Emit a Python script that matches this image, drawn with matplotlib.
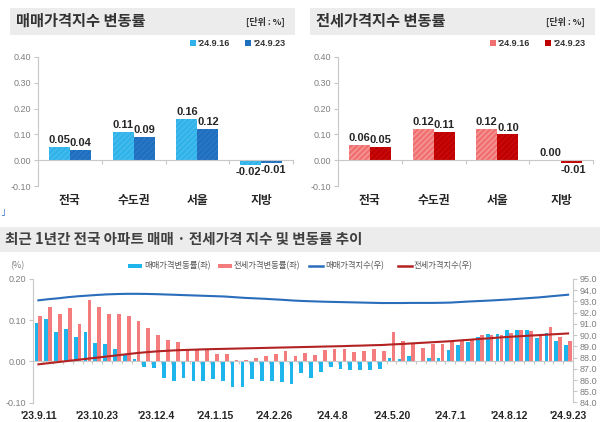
import matplotlib
matplotlib.use('Agg')
import matplotlib.pyplot as plt
from matplotlib.patches import Rectangle
from matplotlib.lines import Line2D
from matplotlib.transforms import blended_transform_factory
import numpy as np

plt.rcParams['font.family'] = ['Noto Sans CJK KR', 'DejaVu Sans']
plt.rcParams['hatch.linewidth'] = 1.0

# 상단: 지역별 변동률
regions = ['전국', '수도권', '서울', '지방']
sale_0916 = [0.05, 0.11, 0.16, -0.02]
sale_0923 = [0.04, 0.09, 0.12, -0.01]
jeonse_0916 = [0.06, 0.12, 0.12, 0.00]
jeonse_0923 = [0.05, 0.11, 0.10, -0.01]
date_labels = ["'24.9.16", "'24.9.23"]

# 하단: 최근 1년 주간 추이 ('23.9.11 ~ '24.9.23)
week_labels = ["'23.9.11", "'23.10.23", "'23.12.4", "'24.1.15", "'24.2.26",
               "'24.4.8", "'24.5.20", "'24.7.1", "'24.8.12", "'24.9.23"]
sale_rate = [0.094, 0.104, 0.072, 0.079, 0.058, 0.072, 0.045, 0.041, 0.030, 0.019,
             0.005, -0.014, -0.016, -0.040, -0.047, -0.040, -0.047, -0.047, -0.044, -0.048,
             -0.063, -0.063, -0.044, -0.047, -0.048, -0.049, -0.055, -0.029, -0.040, -0.026,
             -0.014, -0.018, -0.020, -0.022, -0.020, -0.018, 0.007, 0.006, 0.013, 0.001,
             0.007, 0.007, 0.027, 0.040, 0.048, 0.060, 0.066, 0.066, 0.076, 0.076,
             0.076, 0.057, 0.070, 0.050, 0.040]
jeonse_rate = [0.109, 0.133, 0.114, 0.129, 0.091, 0.148, 0.133, 0.116, 0.116, 0.109,
               0.097, 0.080, 0.064, 0.052, 0.046, 0.027, 0.027, 0.029, 0.017, 0.019,
               0.004, 0.004, 0.008, 0.014, 0.018, 0.025, 0.014, 0.020, 0.016, 0.027,
               0.030, 0.029, 0.022, 0.024, 0.029, 0.025, 0.071, 0.049, 0.042, 0.033,
               0.042, 0.042, 0.050, 0.052, 0.054, 0.063, 0.063, 0.063, 0.070, 0.076,
               0.074, 0.066, 0.083, 0.060, 0.050]
sale_index = [93.10, 93.20, 93.28, 93.38, 93.46, 93.52, 93.58, 93.63, 93.66, 93.68,
              93.68, 93.67, 93.65, 93.62, 93.59, 93.56, 93.53, 93.50, 93.47, 93.44,
              93.38, 93.32, 93.28, 93.24, 93.19, 93.14, 93.08, 93.04, 93.01, 92.98,
              92.96, 92.94, 92.92, 92.90, 92.88, 92.86, 92.86, 92.86, 92.87, 92.87,
              92.87, 92.88, 92.90, 92.95, 93.00, 93.04, 93.08, 93.13, 93.18, 93.24,
              93.30, 93.36, 93.44, 93.52, 93.60]
jeonse_index = [87.40, 87.50, 87.60, 87.70, 87.80, 87.90, 88.00, 88.10, 88.20, 88.30,
                88.40, 88.48, 88.55, 88.60, 88.65, 88.68, 88.71, 88.74, 88.76, 88.78,
                88.80, 88.82, 88.84, 88.86, 88.88, 88.90, 88.92, 88.94, 88.96, 88.98,
                89.00, 89.02, 89.05, 89.07, 89.10, 89.12, 89.17, 89.21, 89.26, 89.31,
                89.36, 89.41, 89.46, 89.53, 89.59, 89.66, 89.72, 89.79, 89.85, 89.90,
                89.95, 90.00, 90.05, 90.10, 90.15]

W, H = 600, 422
fig = plt.figure(figsize=(6, 4.22), dpi=100)
fig.patch.set_facecolor('white')

TXT = '#262626'
NUM_FONT = ['Liberation Sans', 'DejaVu Sans']


def fx(x):
    return x / W


def fy(y):
    return 1 - y / H


def banner(x0, y0, x1, y1):
    fig.add_artist(Rectangle((fx(x0), fy(y1)), fx(x1 - x0), (y1 - y0) / H,
                             transform=fig.transFigure, facecolor='#ececec',
                             edgecolor='none', zorder=0))


def top_panel(x0, title, v1, v2, c1, c2, e1, e2):
    banner(x0 + 10, 8, x0 + 295, 35)
    fig.text(fx(x0 + 16), fy(21), title, fontsize=11, color='#333333',
             va='center', ha='left', fontweight='bold')
    fig.text(fx(x0 + 285), fy(22), '[단위 : %]', fontsize=6.5, color='#333333',
             va='center', ha='right', fontweight='bold')
    # 범례
    for i, (c, e) in enumerate([(c1, e1), (c2, e2)]):
        lx = x0 + 190 + i * 55
        fig.add_artist(Rectangle((fx(lx), fy(46)), fx(6), 6 / H,
                                 transform=fig.transFigure, facecolor=c,
                                 edgecolor='none'))
        fig.text(fx(lx + 8), fy(43), date_labels[i], fontsize=6.5,
                 color='#333333', va='center', ha='left', fontweight='bold',
                 family=NUM_FONT)

    ax = fig.add_axes([fx(x0 + 38), fy(186), fx(255), 129 / H])
    xs = np.arange(len(regions))
    bw = 0.33
    ax.bar(xs - bw / 2, v1, bw, color=c1, edgecolor=e1, linewidth=0,
           hatch='//////', zorder=2)
    ax.bar(xs + bw / 2, v2, bw, color=c2, edgecolor=e2, linewidth=0,
           hatch='//////', zorder=2)
    for vals, off in [(v1, -bw / 2), (v2, bw / 2)]:
        for x, v in zip(xs, vals):
            if v < 0:
                # 음수 라벨은 서로 붙어 있어 살짝 벌려 둠
                nudge = -0.03 if off < 0 else 0.03
                ax.text(x + off + nudge, v - 0.007, f'{v:.2f}', ha='center',
                        va='top', fontsize=8, fontweight='bold', color=TXT,
                        family=NUM_FONT)
            else:
                ax.text(x + off, v + 0.007, f'{v:.2f}', ha='center', va='bottom',
                        fontsize=8, fontweight='bold', color=TXT, family=NUM_FONT)
    ax.set_xlim(-0.5, 3.5)
    ax.set_ylim(-0.10, 0.40)
    ax.set_yticks([-0.10, 0.00, 0.10, 0.20, 0.30, 0.40])
    ax.set_yticklabels([f'{t:.2f}' for t in ax.get_yticks()])
    ax.tick_params(axis='y', labelsize=6.5, labelcolor='#7f7f7f', length=3,
                   color='#c8c8c8', width=0.8, pad=2)
    for lab in ax.get_yticklabels():
        lab.set_family(NUM_FONT)
    ax.spines['top'].set_visible(False)
    ax.spines['right'].set_visible(False)
    ax.spines['left'].set_color('#c8c8c8')
    ax.spines['bottom'].set_position(('data', 0))
    ax.spines['bottom'].set_color('#c8c8c8')
    ax.set_xticks([0.5, 1.5, 2.5, 3.5])
    ax.set_xticklabels([])
    ax.tick_params(axis='x', length=3, color='#c8c8c8', direction='out')
    ax.set_facecolor('none')
    tr = blended_transform_factory(ax.transData, ax.transAxes)
    for x, r in zip(xs, regions):
        ax.text(x, -0.11, r, transform=tr, ha='center', va='center',
                fontsize=8.5, fontweight='bold', color=TXT)


top_panel(0, '매매가격지수 변동률', sale_0916, sale_0923,
          '#2fb3ea', '#1e6fbf', '#48bdee', '#2c79c6')
top_panel(300, '전세가격지수 변동률', jeonse_0916, jeonse_0923,
          '#f07070', '#c00000', '#f79a9a', '#c80c0c')

# 작은 표식
fig.text(fx(1), fy(213), '˩', fontsize=7, color='#2f6fd0', va='center')

# 하단 패널
banner(0, 227, 600, 252)
fig.text(fx(5), fy(239), '최근 1년간 전국 아파트 매매 · 전세가격 지수 및 변동률 추이',
         fontsize=10.5, color='#404040', va='center', ha='left', fontweight='semibold')
fig.text(fx(10), fy(266), '(%)', fontsize=6.5, color='#7f7f7f', va='center')

leg = [('bar', '#1eb4ec', '매매가격변동률(좌)', 128),
       ('bar', '#f47c7c', '전세가격변동률(좌)', 218),
       ('line', '#2a6ebb', '매매가격지수(우)', 309),
       ('line', '#b22222', '전세가격지수(우)', 398)]
for kind, c, lab, lx in leg:
    if kind == 'bar':
        fig.add_artist(Rectangle((fx(lx), fy(268)), fx(14), 4 / H,
                                 transform=fig.transFigure, facecolor=c,
                                 edgecolor='none'))
    else:
        fig.add_artist(Line2D([fx(lx), fx(lx + 14)], [fy(266), fy(266)],
                              transform=fig.transFigure, color=c, lw=1.8))
    fig.text(fx(lx + 16), fy(266), lab, fontsize=6, color='#555555',
             va='center', ha='left')

ax = fig.add_axes([fx(33), fy(402.5), fx(540), 123.5 / H])
k = np.arange(len(sale_rate))
ax.bar(k - 0.2, sale_rate, 0.38, color='#1eb4ec', zorder=2)
ax.bar(k + 0.2, jeonse_rate, 0.38, color='#f47c7c', zorder=2)
ax.set_xlim(-0.55, 54.5)
ax.set_ylim(-0.10, 0.20)
ax.set_yticks([-0.10, 0.00, 0.10, 0.20])
ax.set_yticklabels([f'{t:.2f}' for t in ax.get_yticks()])
ax.tick_params(axis='y', labelsize=6.5, labelcolor='#7f7f7f', length=3,
               color='#c8c8c8', width=0.8, pad=2)
for lab in ax.get_yticklabels():
    lab.set_family(NUM_FONT)
ax.spines['top'].set_visible(False)
ax.spines['right'].set_visible(False)
ax.spines['left'].set_color('#c8c8c8')
ax.spines['bottom'].set_position(('data', 0))
ax.spines['bottom'].set_color('#c8c8c8')
ax.set_xticks(np.arange(0.5, 54, 1.0))
ax.set_xticklabels([])
ax.tick_params(axis='x', length=2.5, color='#c8c8c8', direction='out')
tr = blended_transform_factory(ax.transData, ax.transAxes)
for i, lab in enumerate(week_labels):
    ax.text(i * 6, -0.11, lab, transform=tr, ha='center', va='center',
            fontsize=7.5, fontweight='bold', color=TXT, family=NUM_FONT)

ax2 = ax.twinx()
ax2.plot(k, sale_index, color='#2a6ebb', lw=1.5, zorder=3)
ax2.plot(k, jeonse_index, color='#b22222', lw=1.5, zorder=3)
ax2.set_ylim(84, 95)
ax2.set_yticks(np.arange(84, 95.5, 1.0))
ax2.set_yticklabels([f'{t:.1f}' for t in np.arange(84, 95.5, 1.0)])
ax2.tick_params(axis='y', labelsize=6.5, labelcolor='#7f7f7f', length=3,
                color='#c8c8c8', width=0.8, pad=2)
for lab in ax2.get_yticklabels():
    lab.set_family(NUM_FONT)
for s in ['top', 'left', 'bottom']:
    ax2.spines[s].set_visible(False)
ax2.spines['right'].set_color('#c8c8c8')

fig.savefig('out.png', dpi=100, facecolor='white')
